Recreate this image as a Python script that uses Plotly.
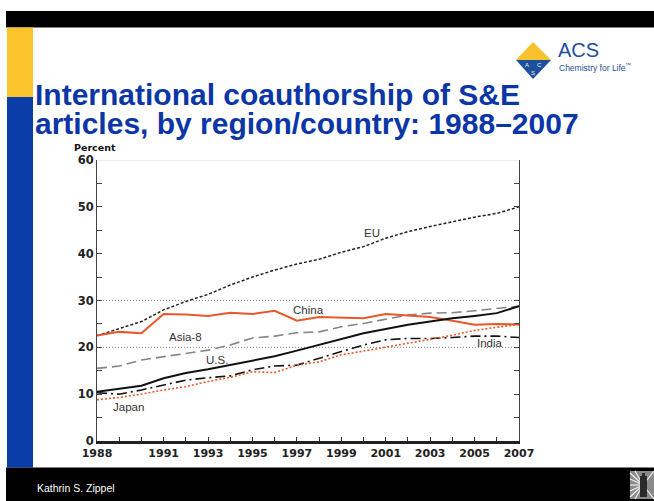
import plotly.graph_objects as go

years = list(range(1988, 2008))
eu     = [22.5, 24.0, 25.5, 28.0, 29.8, 31.3, 33.3, 35.0, 36.5, 37.8, 38.8, 40.3, 41.5, 43.3, 44.7, 45.8, 46.8, 47.8, 48.6, 50.0]
china  = [22.5, 23.3, 23.0, 27.1, 27.0, 26.7, 27.4, 27.1, 27.8, 25.7, 26.5, 26.3, 26.2, 27.1, 26.8, 26.5, 25.7, 24.8, 25.0, 24.9]
asia8  = [15.5, 16.0, 17.3, 18.0, 18.7, 19.4, 20.5, 22.0, 22.4, 23.1, 23.3, 24.4, 25.1, 26.0, 26.9, 27.3, 27.4, 27.8, 28.3, 28.8]
us     = [10.5, 11.2, 11.8, 13.4, 14.5, 15.3, 16.2, 17.1, 18.1, 19.3, 20.5, 21.7, 23.0, 23.9, 24.8, 25.5, 26.2, 26.7, 27.3, 28.8]
india  = [10.3, 10.0, 10.9, 12.0, 13.0, 13.5, 13.9, 15.2, 16.0, 16.2, 17.7, 19.1, 20.5, 21.6, 21.9, 21.9, 22.1, 22.4, 22.4, 22.1]
japan  = [8.8, 9.3, 10.0, 10.9, 11.6, 12.7, 13.6, 14.8, 14.6, 16.2, 16.9, 18.4, 19.2, 20.0, 20.9, 21.7, 22.6, 23.6, 24.3, 24.9]

x_labels = {1988: "1988", 1991: "1991", 1993: "1993", 1995: "1995", 1997: "1997",
            1999: "1999", 2001: "2001", 2003: "2003", 2005: "2005", 2007: "2007"}
y_ticks = list(range(0, 61, 5))
y_labels = [str(v) if v % 10 == 0 else "" for v in y_ticks]

W, H = 654, 501
L, R, T, B = 97, 519, 160, 441
PW, PH = R - L, B - T


def px(x):
    return (x - L) / PW


def py(y):
    return (B - y) / PH


ORANGE = "#e8582a"
fig = go.Figure()

series = [
    ("EU", eu, dict(color="#222222", width=1.5, dash="3px,2px")),
    ("Asia-8", asia8, dict(color="#858585", width=1.6, dash="10px,5px")),
    ("India", india, dict(color="#111111", width=1.6, dash="10px,4px,2px,4px")),
    ("Japan", japan, dict(color=ORANGE, width=1.6, dash="2px,2px")),
    ("China", china, dict(color=ORANGE, width=2)),
    ("U.S.", us, dict(color="#111111", width=2)),
]
for name, vals, line in series:
    fig.add_trace(go.Scatter(x=years, y=vals, mode="lines", name=name, line=line,
                             showlegend=False, cliponaxis=False))

shapes = []
# gridlines
for v in (20, 30):
    shapes.append(dict(type="line", xref="paper", yref="y", x0=0, x1=1, y0=v, y1=v,
                       line=dict(color="#888888", width=1, dash="1px,2px"), layer="below"))
shapes.append(dict(type="line", xref="paper", yref="y", x0=0, x1=1, y0=60, y1=60,
                   line=dict(color="#dddddd", width=1), layer="below"))


def rect(x0, y0, x1, y1, color):
    shapes.append(dict(type="rect", xref="paper", yref="paper",
                       x0=px(x0), x1=px(x1), y0=py(y1), y1=py(y0),
                       fillcolor=color, line=dict(width=0), layer="above"))


# slide decorations
rect(6, 11, 654, 27.5, "#000000")
rect(7, 27.5, 33, 97, "#fcc42c")
rect(7, 97, 33, 467.5, "#0a3ca8")
rect(6, 467.5, 654, 501, "#000000")
rect(630, 471, 654, 499, "#8a8a8a")
cx, cy = 643, 485
for dx, dy in [(-13, -12), (-13, -6), (-13, 0), (-13, 6), (-13, 12), (-8, -14), (-8, 14), (11, -14), (11, 14)]:
    shapes.append(dict(type="line", xref="paper", yref="paper",
                       x0=px(cx), y0=py(cy), x1=px(cx + dx), y1=py(cy + dy),
                       line=dict(color="#f0f0f0", width=1.2)))
rect(640, 476, 647, 497, "#2a2a2a")
rect(642, 473, 645, 476, "#2a2a2a")


def path(points, color):
    d = "M " + " L ".join(f"{px(a):.5f},{py(b):.5f}" for a, b in points) + " Z"
    shapes.append(dict(type="path", xref="paper", yref="paper", path=d,
                       fillcolor=color, line=dict(width=0)))


path([(516, 60), (533, 42), (551, 60)], "#f7c22b")
path([(516, 60), (551, 60), (533, 79)], "#1c4f9c")

ann = []


def text(x, y, s, size, color, family="Liberation Sans, Arial, sans-serif", weight="normal",
         xanchor="left", yanchor="middle"):
    ann.append(dict(xref="paper", yref="paper", x=px(x), y=py(y), text=s, showarrow=False,
                    xanchor=xanchor, yanchor=yanchor,
                    font=dict(family=family, size=size, color=color, weight=weight)))


TB = "#0b36a6"
text(33, 95, "International coauthorship of S&E", 30, TB, weight="bold")
text(33, 123, "articles, by region/country: 1988–2007", 30, TB, weight="bold")
text(556, 50, "ACS", 20, "#1f4e9c", family="Liberation Sans Narrow, Liberation Sans, sans-serif")
text(557, 68, "Chemistry for Life<sup>™</sup>", 8.5, "#1f4e9c",
     family="Liberation Sans Narrow, Liberation Sans, sans-serif")
text(527, 65, "A", 6, "#f0f0f0", xanchor="center")
text(539, 65, "C", 6, "#f0f0f0", xanchor="center")
text(533, 73, "S", 6, "#f0f0f0", xanchor="center")
text(35, 488, "Kathrin S. Zippel", 10.5, "#ffffff")
text(72, 147, "Percent", 9.5, "#111111", family="DejaVu Sans", weight="bold")

# series labels (data coordinates)
for lab, xv, yv in [("EU", 2000.4, 44.4), ("China", 1997.5, 28.0), ("Asia-8", 1992.0, 22.2),
                    ("U.S.", 1993.4, 17.3), ("Japan", 1989.4, 7.3), ("India", 2005.7, 20.9)]:
    ann.append(dict(xref="x", yref="y", x=xv, y=yv, text=lab, showarrow=False,
                    font=dict(family="Liberation Sans, Arial, sans-serif", size=11.5, color="#333333")))

fig.update_layout(
    width=W, height=H,
    margin=dict(l=L, r=W - R, t=T, b=H - B, pad=0),
    paper_bgcolor="white", plot_bgcolor="white",
    shapes=shapes, annotations=ann,
    xaxis=dict(range=[1988, 2007], tickvals=years,
               ticktext=[x_labels.get(y, "") for y in years],
               ticks="inside", ticklen=4, tickcolor="#333333", tickwidth=1,
               showline=True, linecolor="#222222", linewidth=2.5,
               showgrid=False, zeroline=False,
               tickfont=dict(family="DejaVu Sans", size=11, color="#222222", weight="bold")),
    yaxis=dict(range=[0, 60], tickvals=y_ticks, ticktext=y_labels,
               ticks="inside", ticklen=5, tickcolor="#444444", tickwidth=1,
               showline=True, linecolor="#444444", linewidth=1, mirror="ticks",
               showgrid=False, zeroline=False,
               tickfont=dict(family="DejaVu Sans", size=11.5, color="#222222", weight="bold")),
)

fig.write_html("out.html")
